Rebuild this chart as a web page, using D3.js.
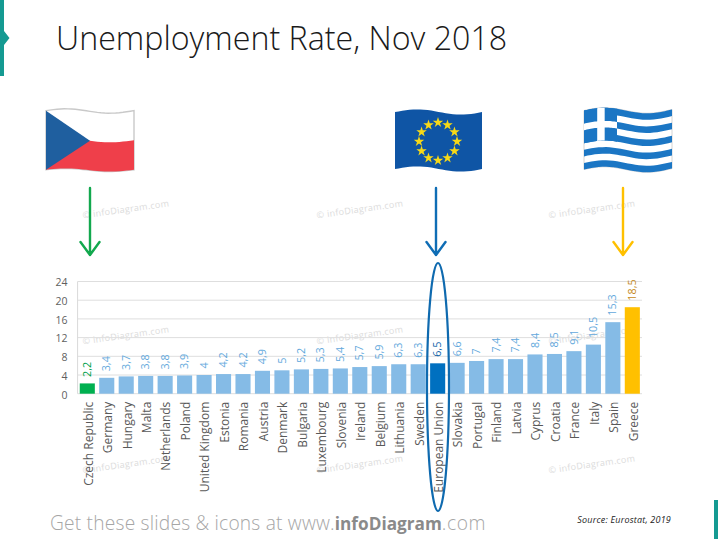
<!DOCTYPE html>
<html><head><meta charset="utf-8">
<script src="https://cdn.jsdelivr.net/npm/d3@7"></script>
<style>html,body{margin:0;padding:0;background:#fff}svg{display:block}text{font-family:"Open Sans",sans-serif}</style>
</head><body><svg id="c" width="718" height="539"></svg>
<script>
const categories=["Czech Republic","Germany","Hungary","Malta","Netherlands","Poland","United Kingdom","Estonia","Romania","Austria","Denmark","Bulgaria","Luxembourg","Slovenia","Ireland","Belgium","Lithuania","Sweden","European Union","Slovakia","Portugal","Finland","Latvia","Cyprus","Croatia","France","Italy","Spain","Greece"];
const values=[2.2,3.4,3.7,3.8,3.8,3.9,4,4.2,4.2,4.9,5,5.2,5.3,5.4,5.7,5.9,6.3,6.3,6.5,6.6,7,7.4,7.4,8.4,8.5,9.1,10.5,15.3,18.5];
const yTicks=[0,4,8,12,16,20,24];
const highlight={"Czech Republic":["#00b050","#00a04a"],"European Union":["#0070c0","#0f63a8"],"Greece":["#ffc000","#c58a22"]};

const svg=d3.select("#c");
const x=d3.scaleBand().domain(categories).range([77.6,642]).paddingInner(.225).paddingOuter(.11);
const y=d3.scaleLinear().domain([0,24]).range([393.7,281.5]);

// slide decorations
svg.append("path").attr("fill","#159a92").attr("d","M0 0H4V31L9.5 38L4 45V76H0Z");
svg.append("rect").attr("x",714).attr("y",500).attr("width",4).attr("height",39).attr("fill","#159a92");
svg.append("text").attr("x",56).attr("y",50).attr("font-size",32.2).attr("font-weight",300).attr("fill","#1a1a1a").text("Unemployment Rate, Nov 2018");

// watermarks
const wmX=[126,360,592],wmY=[210,336,465];
wmY.forEach(wy=>wmX.forEach(wx=>svg.append("text").attr("transform",`translate(${wx},${wy}) rotate(-8)`)
  .attr("text-anchor","middle").attr("dominant-baseline","middle").attr("font-size",9).attr("letter-spacing",.3)
  .attr("fill","#dcdcdc").text("© infoDiagram.com")));

// wavy flags
function patch(f,u0,v0,u1,v1){
  const p=[],n=24;
  for(let i=0;i<=n;i++)p.push(f(u0+(u1-u0)*i/n,v0));
  for(let i=0;i<=n;i++)p.push(f(u1-(u1-u0)*i/n,v1));
  return d3.line()(p)+"Z";
}
const fCz=(u,v)=>[46+u*88,111+v*59+2.2*Math.sin(u*6.28+3.3)*(1-.3*v)];
const czG=svg.append("g");
czG.append("path").attr("d",patch(fCz,0,0,1,1)).attr("fill","#fff").attr("stroke","#c9c9c9").attr("stroke-width",1.4);
czG.append("path").attr("d",patch(fCz,0,.5,1,1)).attr("fill","#ef3f4a");
{const pts=[];for(let i=0;i<=20;i++){const t=i/20;pts.push(fCz(0,t));}
 pts.push(fCz(.5,.5));
 czG.append("path").attr("d",d3.line()(pts)+"Z").attr("fill","#1f5f9f");
}
const fEu=(u,v)=>[395+u*87,112+v*57+2.6*Math.sin(u*6.28+3.1)];
svg.append("path").attr("d",patch(fEu,0,0,1,1)).attr("fill","#0f55a5");
const star=d3.symbol().type(d3.symbolStar).size(34);
d3.range(12).forEach(i=>{const t=i*Math.PI/6;
  svg.append("path").attr("d",star()).attr("fill","#f7d917")
   .attr("transform",`translate(${438+19*Math.sin(t)},${141.5-19*Math.cos(t)})`);});
const fGr=(u,v)=>[584+u*88,111+v*59+3*Math.sin(u*6.28+3.3)-u];
const grG=svg.append("g");
grG.append("path").attr("d",patch(fGr,0,0,1,1)).attr("fill","#fff").attr("stroke","#d4d4d4").attr("stroke-width",1);
d3.range(9).filter(i=>i%2==0).forEach(i=>grG.append("path").attr("d",patch(fGr,0,i/9,1,(i+1)/9)).attr("fill","#1b76c4"));
grG.append("path").attr("d",patch(fGr,0,0,.375,5/9)).attr("fill","#1b76c4");
grG.append("path").attr("d",patch(fGr,.15,0,.235,5/9)).attr("fill","#fff");
grG.append("path").attr("d",patch(fGr,0,2/9,.375,3/9)).attr("fill","#fff");

// arrows
[[90,"#12a84e"],[436,"#0f6db5"],[623,"#ffc000"]].forEach(([ax,col])=>{
  svg.append("path").attr("d",`M${ax} 188V255M${ax-9.5} 242L${ax} 255L${ax+9.5} 242`)
    .attr("fill","none").attr("stroke",col).attr("stroke-width",2.4).attr("stroke-linecap","round").attr("stroke-linejoin","round");
});

// grid and axes
svg.append("g").selectAll("line").data(yTicks).join("line")
  .attr("x1",77.6).attr("x2",642).attr("y1",d=>y(d)).attr("y2",d=>y(d))
  .attr("stroke","#dedede").attr("stroke-width",1);
svg.append("line").attr("x1",77.6).attr("x2",77.6).attr("y1",y(24)).attr("y2",y(0)).attr("stroke","#d9d9d9");

const gY=svg.append("g").attr("transform","translate(77.6,1)").call(d3.axisLeft(y).tickValues(yTicks).tickSize(0).tickPadding(10));
gY.select(".domain").remove();
gY.selectAll("text").attr("font-size",10.5).attr("fill","#5f5f5f").attr("font-family",'"Open Sans",sans-serif');

svg.append("g").selectAll("rect").data(categories).join("rect")
  .attr("x",d=>x(d)).attr("width",x.bandwidth())
  .attr("y",(d,i)=>y(values[i])).attr("height",(d,i)=>y(0)-y(values[i]))
  .attr("fill",d=>highlight[d]?highlight[d][0]:"#85bbe6");

svg.append("g").selectAll("text").data(categories).join("text")
  .attr("transform",(d,i)=>`translate(${x(d)+x.bandwidth()/2+3.6},${y(values[i])-6.5}) rotate(-90)`)
  .attr("font-size",10.8)
  .attr("fill",d=>highlight[d]?highlight[d][1]:"#62a8dc")
  .text((d,i)=>String(values[i]).replace(".",","));

const gX=svg.append("g").attr("transform",`translate(0,${y(0)})`).call(d3.axisBottom(x).tickSize(0));
gX.select(".domain").remove();
gX.selectAll("text").attr("font-family",'"Open Sans",sans-serif').attr("font-size",12).attr("fill","#595959")
  .attr("text-anchor","end").attr("dominant-baseline","central").attr("transform","rotate(-90)").attr("x",-8).attr("y",0.8).attr("dy",0);

// EU ring
svg.append("ellipse").attr("cx",438).attr("cy",387).attr("rx",11).attr("ry",124)
  .attr("fill","none").attr("stroke","#0f6aaf").attr("stroke-width",2.2);

// footer
const ft=svg.append("text").attr("x",50).attr("y",530).attr("font-size",19.2).attr("fill","#a6a6a6");
ft.append("tspan").attr("font-weight",300).attr("letter-spacing",.2).text("Get these slides & icons at www.");
ft.append("tspan").attr("font-weight",700).attr("font-size",17.2).attr("letter-spacing",0).attr("fill","#8a8a8a").text("infoDiagram");
ft.append("tspan").attr("font-weight",300).attr("letter-spacing",.6).text(".com");
svg.append("text").attr("x",671).attr("y",523).attr("text-anchor","end").attr("font-size",9).attr("font-style","italic").attr("letter-spacing",.2).attr("fill","#222").text("Source: Eurostat, 2019");
</script></body></html>
